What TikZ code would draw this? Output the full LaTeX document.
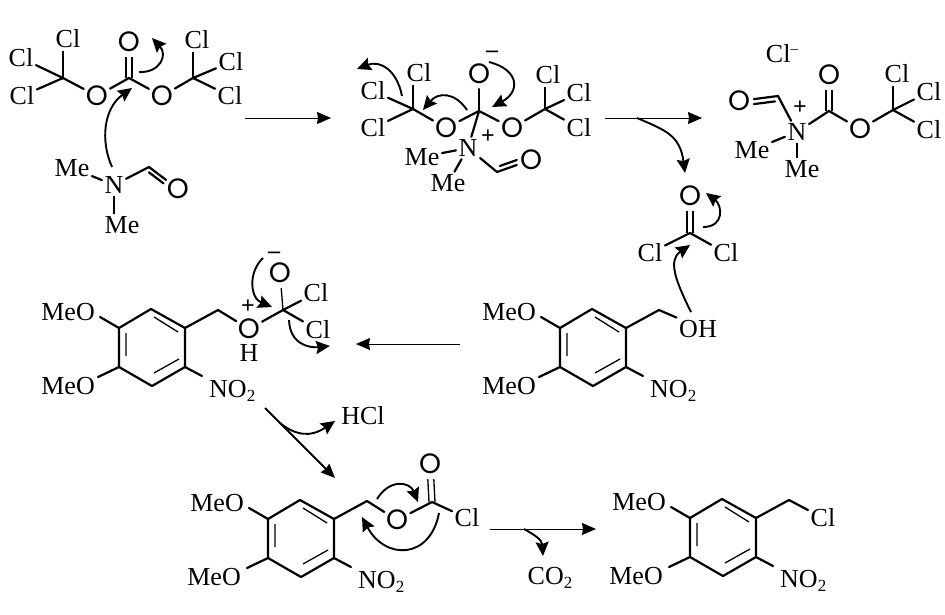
\documentclass[tikz,border=0pt]{standalone}
\usepackage{fontspec}
\setmainfont{Liberation Serif}
\usetikzlibrary{arrows.meta}
\newfontfamily\ofont{Poppins}
\newcommand{\sbt}{\raisebox{-4.5pt}{\fontsize{17}{17}\selectfont 2}}
\tikzset{
  atom/.style={inner sep=2.5pt,font=\fontsize{26}{26}\selectfont},
  oatom/.style={circle,inner sep=0pt,minimum size=23pt,font=\fontsize{28}{28}\ofont},
  chg/.style={inner sep=0pt,font=\fontsize{24}{24}\bfseries},
  bond/.style={line width=2.2pt,line cap=round},
  thinb/.style={line width=1.3pt},
  rxn/.style={line width=1pt,-{Stealth[length=14pt,width=12pt,inset=1pt]}},
  curly/.style={line width=1.9pt,-{Stealth[length=14pt,width=13pt,inset=2pt]}}
}
\newcommand{\curl}[5]{%
  \coordinate (#1s) at (#2); \coordinate (#1e) at (#5);
  \draw[curly] (#1s) .. controls (#3) and (#4) .. (#1e);}
\newcommand{\benz}[4]{%
\begin{scope}[shift={(#2,#3)}]
  \coordinate (#1a) at (0,0);
  \coordinate (#1b) at (34,19);
  \coordinate (#1c) at (34,58);
  \coordinate (#1d) at (1,77);
  \coordinate (#1e) at (-32,58);
  \coordinate (#1f) at (-32,19);
  \coordinate (#1ai) at (3,8);
  \coordinate (#1bi) at (27,23);
  \coordinate (#1ci) at (28,50);
  \coordinate (#1di) at (3,64);
  \coordinate (#1ei) at (-25,47);
  \coordinate (#1fi) at (-25,24);
  \coordinate (#1m) at (-51,8);
  \coordinate (#1n) at (-53,68);
  \coordinate (#1p) at (51,67);
  \coordinate (#1g) at (67,1);
  \node[atom,anchor=east,inner sep=0pt] (#1mo) at (-56,3) {MeO};
  \node[atom,anchor=east,inner sep=0pt] (#1lo) at (-56+#4,77) {MeO};
  \node[atom,anchor=base west,inner sep=0pt] (#1no) at (58,88) {NO\sbt};
  \draw[bond,line join=round] (#1a)--(#1b)--(#1c)--(#1d)--(#1e)--(#1f)--cycle;
  \draw[thinb] (#1ai)--(#1bi) (#1ci)--(#1di) (#1ei)--(#1fi);
  \draw[bond] (#1f)--(#1m) (#1e)--(#1n) (#1c)--(#1p) (#1b)--(#1g);
\end{scope}}
\begin{document}
\begin{tikzpicture}[x=1pt,y=-1pt]
\useasboundingbox (0,0) rectangle (945,614);
\fill[white] (0,0) rectangle (945,614);

% molecule 1
\coordinate (a1) at (63,78); \coordinate (a2) at (129,78); \coordinate (a3) at (193,78);
\node[atom] (acl1) at (68,39) {Cl};
\node[atom] (acl2) at (21,58) {Cl};
\node[atom] (acl3) at (22,96) {Cl};
\node[oatom] (ao1) at (97,96) {O};
\node[oatom] (ao2) at (129,42) {O};
\node[oatom] (ao3) at (162,96) {O};
\node[atom] (acl4) at (197,40) {Cl};
\node[atom] (acl5) at (231,62) {Cl};
\node[atom] (acl6) at (230,96) {Cl};
\node[atom] (an) at (114,185) {N};
\node[atom] (ame1) at (72,168) {Me};
\node[atom] (ame2) at (122,225) {Me};
\coordinate (af) at (149,167);
\node[oatom] (ao4) at (178,189) {O};
\draw[bond] (a1)--(acl2); \draw[bond] (a1)--(acl3); \draw[bond] (a1)--(ao1);
\draw[thinb] (a1)--(a1 |- acl1.south);
\draw[bond] (ao1)--(a2)--(ao3)--(a3); \draw[bond] (a3)--(acl5); \draw[bond] (a3)--(acl6);
\draw[thinb] (a3)--(a3 |- acl4.south);
\draw[thinb,transform canvas={xshift=-3pt}] (a2)--(ao2);
\draw[thinb,transform canvas={xshift=3pt}] (a2)--(ao2);
\draw[bond] (an)--(ame1); \draw[thinb] (an.south)--(ame2.north -| an);
\draw[bond] (an)--(af)--(ao4);
\draw[bond,shorten <=3pt,transform canvas={shift={(-2.5pt,-3.5pt)}}] (af)--(ao4);
\curl{ca}{112,167}{100,140}{104,108}{132,88}
\curl{cb}{139,72}{160,73}{168,55}{152,38}

\coordinate (r1s) at (245,118); \coordinate (r1e) at (331,118);
\draw[rxn] (r1s)--(r1e);

% molecule 2
\coordinate (b1) at (413,109); \coordinate (b2) at (479,111); \coordinate (b3) at (545,109);
\node[atom] (bcl1) at (419,73) {Cl};
\node[atom] (bcl2) at (373,91) {Cl};
\node[atom] (bcl3) at (373,128) {Cl};
\node[oatom] (bo1) at (446,128) {O};
\node[oatom] (bo2) at (479,74) {O};
\node[chg] (bm) at (492,54) {–};
\node[oatom] (bo3) at (512,128) {O};
\node[atom] (bcl4) at (548,75) {Cl};
\node[atom] (bcl5) at (579,93) {Cl};
\node[atom] (bcl6) at (579,128) {Cl};
\node[atom] (bn) at (468,148) {N};
\node[chg] (bp) at (488,137) {+};
\node[atom] (bme1) at (422,157) {Me};
\node[atom] (bme2) at (448,183) {Me};
\coordinate (bf) at (497,172);
\node[oatom] (bo4) at (531,160) {O};
\draw[bond] (b1)--(bcl2); \draw[bond] (b1)--(bcl3); \draw[bond] (b1)--(bo1);
\draw[thinb] (b1)--(b1 |- bcl1.south);
\draw[bond] (bo1)--(b2)--(bo3)--(b3); \draw[bond] (b3)--(bcl5); \draw[bond] (b3)--(bcl6);
\draw[thinb] (b3)--(b3 |- bcl4.south);
\draw[bond] (b2)--(bo2); \draw[bond] (b2)--(bn);
\draw[bond] (bn)--(bme1); \draw[bond] (bn)--(bme2);
\draw[bond] (bn)--(bf)--(bo4);
\draw[bond,shorten <=3pt,transform canvas={shift={(0pt,5pt)}}] (bf)--(bo4);
\curl{cc}{402,96}{397,70}{380,60}{357,69}
\curl{cd}{467,110}{455,92}{438,92}{423,110}
\curl{ce}{489,62}{520,70}{520,92}{492,107}

\coordinate (r2s) at (605,118); \coordinate (r2e) at (702,118); \coordinate (r2b) at (637,118);
\draw[rxn] (r2s)--(r2e);
\coordinate (r2t) at (685,173);
\draw[curly] (r2b) .. controls (665,130) and (680,135) .. (r2t);

% molecule 3
\node[atom] (ccl0) at (782,54) {Cl\raisebox{9pt}{\fontsize{15}{15}\selectfont –}};
\node[oatom] (co1) at (739,101) {O};
\coordinate (cf) at (778,96);
\node[atom] (cn) at (797,132) {N};
\node[chg] (cp) at (800,108) {+};
\node[atom] (cme1) at (752,150) {Me};
\node[atom] (cme2) at (802,169) {Me};
\coordinate (c1) at (829,111);
\node[oatom] (co2) at (829,75) {O};
\node[oatom] (co3) at (860,129) {O};
\coordinate (c2) at (893,110);
\node[atom] (ccl1) at (897,74) {Cl};
\node[atom] (ccl2) at (929,92) {Cl};
\node[atom] (ccl3) at (929,130) {Cl};
\draw[bond] (co1)--(cf)--(cn);
\draw[bond,shorten >=3pt,transform canvas={yshift=-5pt}] (co1)--(cf);
\draw[bond] (cn)--(c1)--(co3)--(c2); \draw[bond] (c2)--(ccl2); \draw[bond] (c2)--(ccl3);
\draw[thinb] (c2)--(c2 |- ccl1.south);
\draw[thinb,transform canvas={xshift=-3pt}] (c1)--(co2);
\draw[thinb,transform canvas={xshift=3pt}] (c1)--(co2);
\draw[bond] (cn)--(cme1); \draw[thinb] (cn)--(cn |- cme2.north);

% phosgene
\coordinate (d1) at (690,233);
\node[oatom] (do) at (690,196) {O};
\node[atom] (dcl1) at (650,253) {Cl};
\node[atom] (dcl2) at (726,253) {Cl};
\draw[thinb,transform canvas={xshift=-3pt}] (d1)--(do);
\draw[thinb,transform canvas={xshift=3pt}] (d1)--(do);
\draw[bond] (d1)--(dcl1); \draw[bond] (d1)--(dcl2);
\curl{cf}{703,227}{725,227}{722,205}{706,193}

% benzyl alcohol
\benz{e}{592}{309}{0}
\node[atom] (eoh) at (698,329) {OH};
\draw[bond] (eg)--(eoh.north west);
\curl{cg}{691,312}{675,280}{668,260}{690,245}

\coordinate (r3s) at (460,344); \coordinate (r3e) at (356,344);
\draw[rxn] (r3s)--(r3e);

% intermediate
\benz{g}{151}{309}{0}
\node[oatom] (go) at (249,329) {O};
\node[chg] (gp) at (248,307) {+};
\node[atom,inner sep=0pt] (gh) at (249,353) {H};
\coordinate (g1) at (283,310);
\node[oatom] (go2) at (280,273) {O};
\node[chg] (gm) at (274,255) {–};
\node[atom] (gcl1) at (316,293) {Cl};
\node[atom] (gcl2) at (318,330) {Cl};
\draw[bond] (gg)--(go)--(g1);
\draw[bond] (g1)--(gcl1); \draw[bond] (g1)--(gcl2);
\draw[thinb] (g1)--(go2);
\curl{ch}{263,258}{248,272}{250,298}{272,307}
\curl{ci}{289,320}{290,345}{310,348}{330,346}

\coordinate (r4s) at (265,408); \coordinate (r4e) at (335,478);
\draw[rxn,line width=1.8pt] (r4s)--(r4e);
\node[atom] (hcl) at (363,416) {HCl};
\curl{cj}{280,423}{295,435}{310,438}{335,421}

% chloroformate
\benz{k}{300}{500}{-3}
\node[oatom] (ko) at (397,520) {O};
\coordinate (k1) at (432,502);
\node[oatom] (ko2) at (430,464) {O};
\node[atom] (kcl) at (467,518) {Cl};
\draw[bond] (kg)--(ko)--(k1)--(kcl);
\draw[thinb,transform canvas={xshift=-3pt}] (k1)--(ko2);
\draw[thinb,transform canvas={xshift=3pt}] (k1)--(ko2);
\curl{ck}{377,499}{390,478}{410,482}{418,502}
\curl{cl}{439,513}{430,560}{385,560}{362,517}

\coordinate (r5s) at (490,529); \coordinate (r5e) at (596,529);
\draw[rxn] (r5s)--(r5e);
\node[atom] (co) at (550,578) {CO\sbt};
\curl{cm}{524,529}{535,535}{542,540}{543,556}

% product
\benz{p}{722}{499}{-3}
\node[atom] (pcl) at (823,518) {Cl};
\draw[bond] (pg)--(pcl);
\end{tikzpicture}
\end{document}
